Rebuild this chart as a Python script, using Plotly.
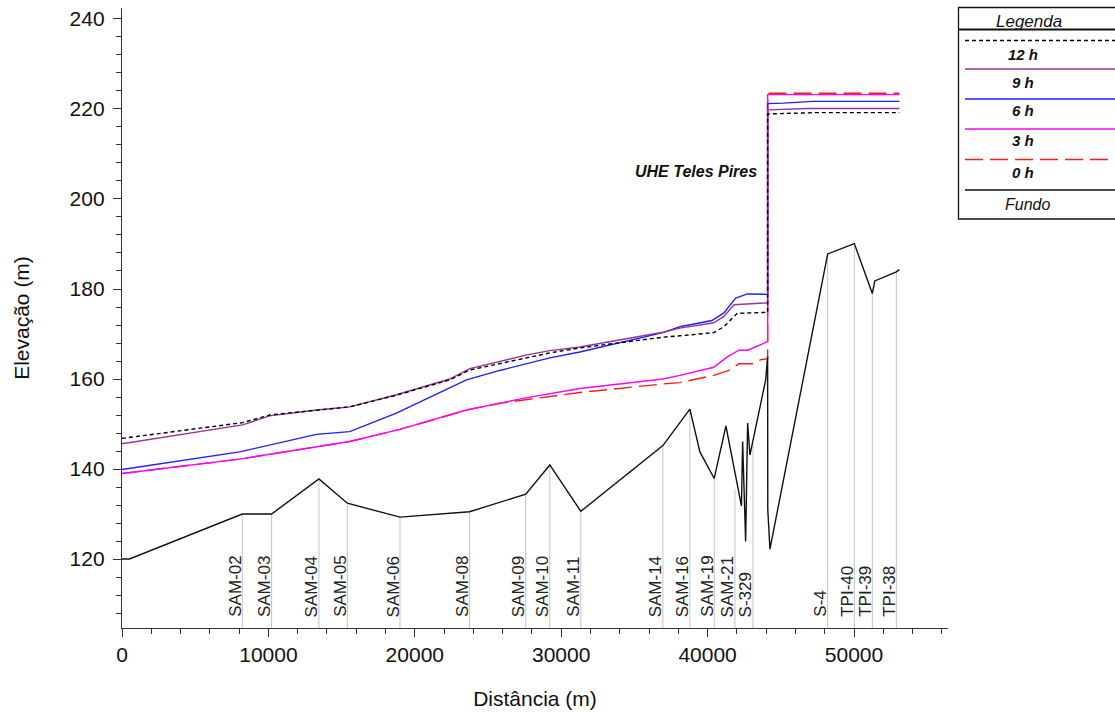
import plotly.graph_objects as go

# ---------------- data ----------------
dist_12h = [0, 8236, 10082, 13274, 15550, 18742, 22386, 23753, 27580, 29221, 31271, 36945, 38107, 40417, 41107, 42030, 43985, 44100, 44100, 47500, 53100]
elev_12h = [146.8, 150.3, 152.0, 153.1, 153.8, 156.4, 159.8, 162.0, 164.7, 165.8, 166.9, 169.3, 169.6, 170.3, 171.6, 174.6, 174.8, 174.8, 218.9, 219.2, 219.2]

dist_9h = [0, 8236, 10082, 13274, 15550, 18742, 22386, 23753, 27580, 29221, 31271, 36945, 38107, 40417, 41114, 41798, 43985, 44100, 44100, 46900, 53100]
elev_9h = [145.6, 149.8, 151.8, 153.1, 153.8, 156.5, 160.0, 162.3, 165.3, 166.3, 167.1, 170.4, 171.3, 172.5, 173.9, 176.5, 176.9, 176.9, 219.8, 220.1, 220.1]

dist_6h = [0, 8031, 13274, 15550, 18742, 23527, 25803, 27580, 29221, 31271, 36945, 38107, 40294, 41114, 41914, 42727, 43985, 44100, 44100, 45200, 47200, 53100]
elev_6h = [139.9, 143.8, 147.7, 148.3, 152.4, 159.8, 161.9, 163.4, 164.7, 166.0, 170.3, 171.6, 173.0, 174.7, 178.0, 178.9, 178.8, 178.8, 221.2, 221.3, 221.7, 221.7]

dist_3h = [0, 8031, 15550, 18968, 23527, 25803, 27580, 31271, 36945, 38107, 40417, 41340, 42139, 42727, 43985, 44100, 44100, 53100]
elev_3h = [139.0, 142.2, 146.1, 148.8, 153.1, 154.7, 155.8, 157.9, 160.0, 160.8, 162.6, 164.9, 166.4, 166.4, 168.3, 168.3, 223.2, 223.2]

dist_0h = [0, 8031, 15550, 18968, 23527, 25803, 27580, 31271, 36945, 38107, 40417, 41456, 42139, 43069, 43643, 44100, 44100, 53100]
elev_0h = [139.0, 142.2, 146.1, 148.8, 153.1, 154.6, 155.4, 157.0, 158.9, 159.2, 160.8, 161.9, 163.4, 163.4, 164.3, 164.5, 223.5, 223.5]

dist_bed = [0, 513, 8216, 10219, 13452, 15393, 18988, 23732, 27580, 29221, 31340, 36945, 38790, 39474, 40451, 41251, 42310, 42392, 42597, 42734, 42891, 43965, 44100, 44110, 44258, 48203, 50021, 51251, 51420, 52892, 53100]
elev_bed = [120.0, 120.0, 130.0, 130.0, 137.8, 132.4, 129.3, 130.5, 134.4, 140.9, 130.6, 145.2, 153.3, 143.8, 137.9, 149.6, 131.8, 146.1, 123.9, 150.2, 143.1, 159.8, 165.0, 131.0, 122.2, 187.8, 190.1, 179.0, 181.8, 183.8, 184.3]

station_names = ["SAM-02", "SAM-03", "SAM-04", "SAM-05", "SAM-06", "SAM-08", "SAM-09", "SAM-10", "SAM-11",
                 "SAM-14", "SAM-16", "SAM-19", "SAM-21", "S-329", "S-4", "TPI-40", "TPI-39", "TPI-38"]
station_dist = [8216, 10219, 13452, 15393, 18988, 23732, 27580, 29221, 31340,
                36945, 38790, 40451, 41866, 43096, 48203, 50021, 51251, 52892]
station_bed = [130.0, 130.0, 137.8, 132.4, 129.3, 130.5, 134.4, 140.9, 130.6,
               145.2, 153.3, 137.9, 135.5, 145.5, 187.8, 190.1, 179.0, 183.8]

legend_labels = ["12 h", "9 h", "6 h", "3 h", "0 h", "Fundo"]

# ---------------- layout geometry ----------------
FIG_W, FIG_H = 1115, 716
M_L, M_R, M_T, M_B = 122, 167, 8, 88
PLOT_W = FIG_W - M_L - M_R
PLOT_H = FIG_H - M_T - M_B
X_RANGE = [0, 56420]
Y_RANGE = [104.67, 242.44]

FONT = "Arial, Liberation Sans, sans-serif"

styles = {
    "12 h": dict(color="#000000", width=1.4, dash="4px,3px"),
    "9 h": dict(color="#993399", width=1.4, dash="solid"),
    "6 h": dict(color="#1f1fff", width=1.4, dash="solid"),
    "3 h": dict(color="#ff00ff", width=1.4, dash="solid"),
    "0 h": dict(color="#ff1a1a", width=1.4, dash="18px,7px"),
    "Fundo": dict(color="#111111", width=1.4, dash="solid"),
}

fig = go.Figure()

# station vertical grey lines
sx, sy = [], []
for d, b in zip(station_dist, station_bed):
    sx += [d, d, None]
    sy += [Y_RANGE[0], b, None]
fig.add_trace(go.Scatter(x=sx, y=sy, mode="lines", line=dict(color="#c4c4c4", width=1),
                         hoverinfo="skip", showlegend=False))

series = {
    "0 h": (dist_0h, elev_0h),
    "3 h": (dist_3h, elev_3h),
    "6 h": (dist_6h, elev_6h),
    "9 h": (dist_9h, elev_9h),
    "12 h": (dist_12h, elev_12h),
    "Fundo": (dist_bed, elev_bed),
}
for name, (xs, ys) in series.items():
    fig.add_trace(go.Scatter(x=xs, y=ys, mode="lines", name=name, line=styles[name], showlegend=False))

annotations = []
# station labels
for name, d in zip(station_names, station_dist):
    annotations.append(dict(x=d, y=106.9, xref="x", yref="y", text=name, textangle=-90,
                            showarrow=False, xanchor="center", yanchor="bottom", xshift=-7,
                            font=dict(family=FONT, size=17, color="#222222"),
                            bgcolor="rgba(255,255,255,0)", borderpad=0))

annotations.append(dict(x=43480, y=206, xref="x", yref="y", text="<b><i>UHE Teles Pires</i></b>",
                        showarrow=False, xanchor="right", yanchor="middle",
                        font=dict(family=FONT, size=16, color="#111111")))


def px(p):
    return (p - M_L) / PLOT_W


def py(p):
    return (M_T + PLOT_H - p) / PLOT_H


shapes = []
# legend box
shapes.append(dict(type="rect", xref="paper", yref="paper", x0=px(958.5), x1=px(1130), y0=py(219), y1=py(7.5),
                   line=dict(color="#111111", width=1.3), fillcolor="rgba(0,0,0,0)"))
shapes.append(dict(type="line", xref="paper", yref="paper", x0=px(958.5), x1=px(1130), y0=py(29.5), y1=py(29.5),
                   line=dict(color="#111111", width=2)))
annotations.append(dict(x=px(1029), y=py(21), xref="paper", yref="paper", text="<i>Legenda</i>",
                        showarrow=False, xanchor="center", yanchor="middle",
                        font=dict(family=FONT, size=17, color="#111111")))

line_ys = [40.5, 69, 99, 129, 159.5, 190]
text_ys = [54, 82.5, 110, 140.5, 172.5, 204]
for lab, ly, ty in zip(legend_labels, line_ys, text_ys):
    st = styles[lab]
    shapes.append(dict(type="line", xref="paper", yref="paper", x0=px(965), x1=px(1130), y0=py(ly), y1=py(ly),
                       line=dict(color=st["color"], width=1.6, dash=st["dash"])))
    if lab == "Fundo":
        txt, fx, fs = "<i>Fundo</i>", 1027, 16
    else:
        txt, fx, fs = "<b><i>%s</i></b>" % lab, 1023, 15
    annotations.append(dict(x=px(fx), y=py(ty), xref="paper", yref="paper", text=txt,
                            showarrow=False, xanchor="center", yanchor="middle",
                            font=dict(family=FONT, size=fs, color="#111111")))

fig.update_layout(
    width=FIG_W, height=FIG_H,
    margin=dict(l=M_L, r=M_R, t=M_T, b=M_B, autoexpand=False),
    paper_bgcolor="white", plot_bgcolor="white",
    showlegend=False,
    annotations=annotations, shapes=shapes,
    font=dict(family=FONT, color="#111111"),
)
fig.update_xaxes(range=X_RANGE, showgrid=False, zeroline=False, showline=True, linecolor="#333333", linewidth=1.3,
                 ticks="outside", ticklen=8, tickcolor="#333333", tick0=0, dtick=10000,
                 minor=dict(ticks="outside", ticklen=5, dtick=2000, tickcolor="#333333"),
                 tickfont=dict(family=FONT, size=21, color="#111111"), tickformat="d",
                 title=dict(text="Distância (m)", font=dict(family=FONT, size=21, color="#111111"), standoff=25))
fig.update_yaxes(range=Y_RANGE, showgrid=False, zeroline=False, showline=True, linecolor="#333333", linewidth=1.3,
                 ticks="outside", ticklen=8, tickcolor="#333333", tick0=0, dtick=20,
                 minor=dict(ticks="outside", ticklen=5, dtick=4, tickcolor="#333333"),
                 tickfont=dict(family=FONT, size=21, color="#111111"), ticklabelstandoff=4,
                 title=dict(text="Elevação (m)", font=dict(family=FONT, size=21, color="#111111"), standoff=34))

fig.write_html("out.html")
